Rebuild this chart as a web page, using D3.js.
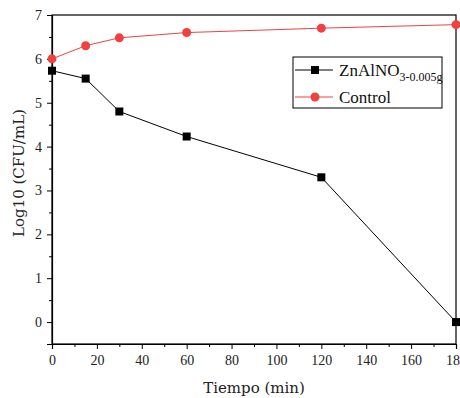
<!DOCTYPE html>
<html>
<head>
<meta charset="utf-8">
<script src="https://cdn.jsdelivr.net/npm/d3@7"></script>
<style>
  body { margin: 0; background: #fff; }
  svg text { font-family: "Liberation Serif", "DejaVu Serif", serif; }
</style>
</head>
<body>
<svg id="chart" width="460" height="398"></svg>
<script>
// data
const times = [0, 15, 30, 60, 120, 180];
const znValues = [5.73, 5.55, 4.8, 4.23, 3.3, 0.0];
const controlValues = [6.0, 6.3, 6.48, 6.6, 6.7, 6.78];
const xTicks = [0, 20, 40, 60, 80, 100, 120, 140, 160, 180];
const yTicks = [0, 1, 2, 3, 4, 5, 6, 7];

const margin = {top: 15, right: 4, bottom: 54, left: 52};
const width = 460, height = 398;

const svg = d3.select("#chart");

const x = d3.scaleLinear().domain([0, 180]).range([margin.left, width - margin.right]);
const y = d3.scaleLinear().domain([-0.5, 7]).range([height - margin.bottom, margin.top]);

// frame
svg.append("rect")
    .attr("x", x(0)).attr("y", y(7))
    .attr("width", x(180) - x(0)).attr("height", y(-0.5) - y(7))
    .attr("fill", "none").attr("stroke", "#000").attr("stroke-width", 1.2);

// x axis with minor ticks
const xMinor = d3.range(10, 180, 20);
svg.append("g")
    .attr("transform", "translate(0," + y(-0.5) + ")")
    .call(d3.axisBottom(x).tickValues(xMinor).tickSize(3).tickFormat(""))
    .call(g => g.select(".domain").remove());
svg.append("g")
    .attr("transform", "translate(0," + y(-0.5) + ")")
    .call(d3.axisBottom(x).tickValues(xTicks).tickSize(5).tickPadding(6))
    .call(g => g.select(".domain").attr("stroke-width", 1.2))
    .call(g => g.selectAll("text").attr("font-size", 14).attr("fill", "#222"));

// y axis with minor ticks
const yMinor = d3.range(-0.5, 7, 1);
svg.append("g")
    .attr("transform", "translate(" + x(0) + ",0)")
    .call(d3.axisLeft(y).tickValues(yMinor).tickSize(3).tickFormat(""))
    .call(g => g.select(".domain").remove());
svg.append("g")
    .attr("transform", "translate(" + x(0) + ",0)")
    .call(d3.axisLeft(y).tickValues(yTicks).tickSize(5).tickPadding(5))
    .call(g => g.select(".domain").attr("stroke-width", 1.2))
    .call(g => g.selectAll("text").attr("font-size", 14).attr("fill", "#222"));

// axis titles
svg.append("text")
    .attr("x", 254).attr("y", 393)
    .attr("text-anchor", "middle").attr("font-size", 15).attr("fill", "#222")
    .style("font-family", "'DejaVu Serif', serif")
    .text("Tiempo (min)");
svg.append("text")
    .attr("transform", "translate(24,173) rotate(-90)")
    .attr("text-anchor", "middle").attr("font-size", 15).attr("fill", "#222")
    .style("font-family", "'DejaVu Serif', serif")
    .text("Log10 (CFU/mL)");

const line = d3.line().x((d, i) => x(times[i])).y(d => y(d));

// ZnAlNO series
svg.append("path").datum(znValues)
    .attr("d", line).attr("fill", "none").attr("stroke", "#000").attr("stroke-width", 1);
svg.selectAll(".zn").data(znValues).join("rect")
    .attr("class", "zn")
    .attr("x", (d, i) => x(times[i]) - 4).attr("y", d => y(d) - 4)
    .attr("width", 8).attr("height", 8).attr("fill", "#000");

// Control series
const red = "#f04040";
svg.append("path").datum(controlValues)
    .attr("d", line).attr("fill", "none").attr("stroke", red).attr("stroke-width", 1);
svg.selectAll(".ctl").data(controlValues).join("circle")
    .attr("class", "ctl")
    .attr("cx", (d, i) => x(times[i])).attr("cy", d => y(d))
    .attr("r", 4.5).attr("fill", red);

// legend
const lg = svg.append("g").attr("transform", "translate(293,57)");
lg.append("rect").attr("width", 149).attr("height", 51)
    .attr("fill", "#fff").attr("stroke", "#000").attr("stroke-width", 1);
lg.append("line").attr("x1", 2).attr("x2", 40).attr("y1", 13).attr("y2", 13).attr("stroke", "#000");
lg.append("rect").attr("x", 18).attr("y", 9).attr("width", 8).attr("height", 8).attr("fill", "#000");
lg.append("line").attr("x1", 2).attr("x2", 40).attr("y1", 40).attr("y2", 40).attr("stroke", red);
lg.append("circle").attr("cx", 22).attr("cy", 40).attr("r", 4.5).attr("fill", red);
const t1 = lg.append("text").attr("x", 46).attr("y", 19).attr("font-size", 17).attr("fill", "#111");
t1.append("tspan").text("ZnAlNO");
t1.append("tspan").attr("dy", 5).attr("font-size", 12).text("3-0.005g");
lg.append("text").attr("x", 46).attr("y", 46).attr("font-size", 17).attr("fill", "#111").text("Control");
</script>
</body>
</html>
